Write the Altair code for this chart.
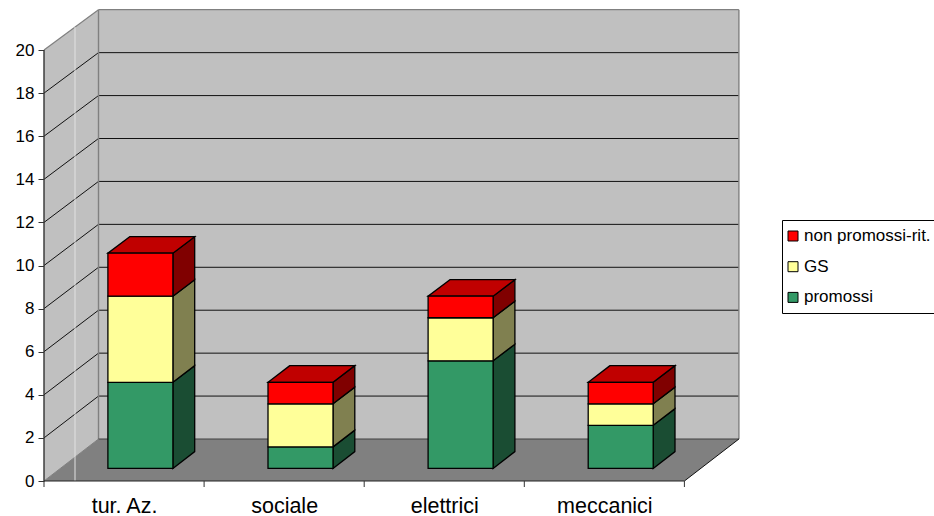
import json
import altair as alt
import pandas as pd

categories = ["tur. Az.", "sociale", "elettrici", "meccanici"]
promossi = [4, 1, 5, 2]
gs = [4, 2, 2, 1]
non_promossi = [2, 1, 1, 1]
series_names = ["promossi", "GS", "non promossi-rit."]
series_values = [promossi, gs, non_promossi]
front_colors = ["#339966", "#FFFF99", "#FF0000"]
side_colors = ["#1A4D33", "#808050", "#800000"]
top_color = "#C00000"
y_ticks = list(range(0, 21, 2))

FONT = "Liberation Sans"
WIDTH, HEIGHT = 695, 471
PX_CAT, PX_VAL = 160.1, 21.55
X_MAX = WIDTH / PX_CAT       # category units across the plot
Y_MAX = HEIGHT / PX_VAL      # value units up the plot
KX, KY = 54.5 / PX_CAT, 42 / PX_VAL   # oblique shift of one full unit of depth
SHRINK = 0.004               # slight foreshortening of values towards the back wall
N = len(categories)
Y_TOP = y_ticks[-1]

D0, D1 = 0.30, 0.70          # depth span of the columns
HALF = 0.203                 # half column width, in category units


def project(c, v, d):
    return c + d * KX, v * (1 - SHRINK * d) + d * KY


# Walls and floor
left_wall = pd.DataFrame([
    {"x": 0, "y": 0, "y2": Y_TOP},
    {"x": KX, "y": project(0, 0, 1)[1], "y2": project(0, Y_TOP, 1)[1]},
])
back_wall = pd.DataFrame([{"x": KX, "x2": N + KX, "y": project(0, 0, 1)[1], "y2": project(0, Y_TOP, 1)[1]}])
floor = pd.DataFrame([
    {"y": 0, "x": 0, "x2": N},
    {"y": KY, "x": KX, "x2": N + KX},
])

# Straight line segments: gridlines, wall edges and category ticks
segments = []


def seg(p, q, color, width=1.0):
    segments.append({"x": p[0], "y": p[1], "x2": q[0], "y2": q[1],
                     "c": color, "w": width})


for v in y_ticks[1:-1]:
    seg(project(0, v, 0), project(0, v, 1), "#111111")
    seg(project(0, v, 1), project(N, v, 1), "#111111")
GRAY = "#808080"
seg(project(0, Y_TOP, 0), project(0, Y_TOP, 1), GRAY, 1.2)
seg(project(0, Y_TOP, 1), project(N, Y_TOP, 1), GRAY, 1.2)
seg(project(0, 0, 1), project(0, Y_TOP, 1), GRAY, 1.4)
seg(project(N, 0, 1), project(N, Y_TOP, 1), GRAY, 1.4)
seg(project(0, 0, 0), project(0, 0, 1), GRAY, 1.0)
seg(project(0, 0, 1), project(N, 0, 1), "#404040", 1.0)
seg(project(N, 0, 0), project(N, 0, 1), "#111111", 1.0)
# Pale seam across the side wall
seam = 31 / 54.5
seg((seam * KX, 0), project(0, Y_TOP, seam), "#E2E2E2", 1.0)
seg(project(0, 0, 0), project(0, Y_TOP, 0), "#333333", 1.4)
seg(project(0, 0, 0), project(N, 0, 0), "#222222", 1.2)
for i in range(N + 1):
    seg((i, 0), (i, -6 / PX_VAL), "#333333", 1.0)
segments_df = pd.DataFrame(segments)

# Column faces
fronts, sides, tops = [], [], []
for i, cat in enumerate(categories):
    base = 0
    cx = i + 0.5
    for s, name in enumerate(series_names):
        val = series_values[s][i]
        lo, hi = base, base + val
        x0, y0 = project(cx - HALF, lo, D0)
        x1, y1 = project(cx + HALF, hi, D0)
        fronts.append({"x": x0, "x2": x1, "y": y0, "y2": y1, "series": name})
        bx, by0 = project(cx + HALF, lo, D1)
        _, by1 = project(cx + HALF, hi, D1)
        face = f"{cat}-{name}"
        sides.append({"x": x1, "y": y0, "y2": y1, "face": face, "fill": side_colors[s]})
        sides.append({"x": bx, "y": by0, "y2": by1, "face": face, "fill": side_colors[s]})
        base = hi
    tx0, ty0 = project(cx - HALF, base, D0)
    tx1, _ = project(cx + HALF, base, D0)
    bx0, ty1 = project(cx - HALF, base, D1)
    bx1, _ = project(cx + HALF, base, D1)
    tops.append({"y": ty0, "x": tx0, "x2": tx1, "face": cat, "fill": top_color})
    tops.append({"y": ty1, "x": bx0, "x2": bx1, "face": cat, "fill": top_color})
fronts_df = pd.DataFrame(fronts)
sides_df = pd.DataFrame(sides)
tops_df = pd.DataFrame(tops)

x_scale = alt.Scale(domain=[0, X_MAX], nice=False, zero=False)
y_scale = alt.Scale(domain=[0, Y_MAX], nice=False, zero=False)

label_expr = f"{json.dumps(categories)}[floor(datum.value)]"
x_axis = alt.Axis(values=[i + 0.5 for i in range(N)], labelExpr=label_expr, title=None,
                  domain=False, ticks=False, grid=False, labelFlush=False, labelOverlap=False,
                  labelFont=FONT, labelFontSize=21.5, labelColor="#000000", labelPadding=14.5)
y_axis = alt.Axis(values=y_ticks, title=None, domain=False, grid=False, tickSize=6,
                  tickColor="#333333", labelFont=FONT, labelFontSize=17, labelColor="#000000",
                  labelPadding=4, labelOverlap=False, labelFlush=False)
X = alt.X("x:Q", scale=x_scale, axis=x_axis)
Y = alt.Y("y:Q", scale=y_scale, axis=y_axis)

left_layer = alt.Chart(left_wall).mark_area(color="#C0C0C0", opacity=1).encode(x=X, y=Y, y2="y2:Q")
back_layer = alt.Chart(back_wall).mark_rect(color="#C0C0C0").encode(x=X, x2="x2:Q", y=Y, y2="y2:Q")
floor_layer = alt.Chart(floor).mark_area(color="#808080", orient="horizontal", opacity=1).encode(
    x=X, x2="x2:Q", y=Y
)
line_layer = alt.Chart(segments_df).mark_rule().encode(
    x=X, x2="x2:Q", y=Y, y2="y2:Q",
    stroke=alt.Stroke("c:N", scale=None),
    strokeWidth=alt.StrokeWidth("w:Q", scale=None),
)
side_layer = alt.Chart(sides_df).mark_area(stroke="#000000", strokeWidth=1.3, opacity=1).encode(
    x=X, y=Y, y2="y2:Q",
    color=alt.Color("fill:N", scale=None),
    detail="face:N",
)
top_layer = alt.Chart(tops_df).mark_area(
    stroke="#000000", strokeWidth=1.3, orient="horizontal", opacity=1
).encode(
    x=X, x2="x2:Q", y=Y,
    color=alt.Color("fill:N", scale=None),
    detail="face:N",
)
front_layer = alt.Chart(fronts_df).mark_rect(stroke="#000000", strokeWidth=1.3).encode(
    x=X, x2="x2:Q", y=Y, y2="y2:Q",
    color=alt.Color(
        "series:N",
        scale=alt.Scale(domain=series_names[::-1], range=front_colors[::-1]),
        legend=alt.Legend(
            title=None, orient="none", legendX=738, legendY=210, padding=7.5,
            fillColor="#FFFFFF", strokeColor="#000000", symbolType="square", symbolSize=100,
            symbolStrokeColor="#000000", symbolStrokeWidth=1, symbolOffset=-5,
            labelFont=FONT, labelFontSize=17,
            labelColor="#000000", labelOffset=2.5, rowPadding=12.7, labelLimit=300,
        ),
    ),
)

chart = alt.layer(
    left_layer, back_layer, floor_layer, line_layer, side_layer, top_layer, front_layer
).properties(
    width=WIDTH,
    height=HEIGHT,
    background="#FFFFFF",
    autosize=alt.AutoSizeParams(type="none"),
    padding={"left": 44, "top": 10, "right": 934 - 44 - WIDTH, "bottom": 516 - 10 - HEIGHT},
).configure_view(stroke=None)

chart.save("out.html", embed_options={"renderer": "svg", "actions": False})
